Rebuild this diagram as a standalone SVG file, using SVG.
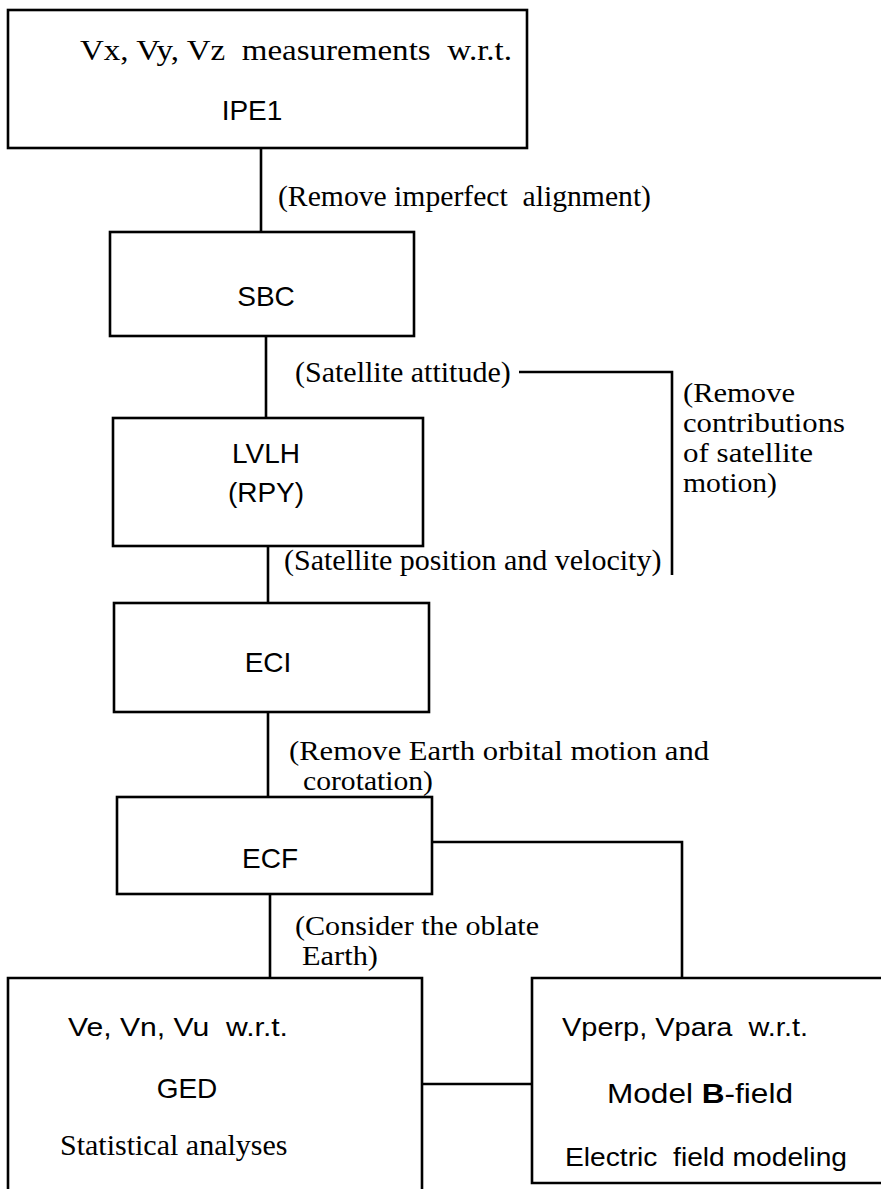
<svg xmlns="http://www.w3.org/2000/svg" width="881" height="1189" viewBox="0 0 881 1189">
<style>
  .box { fill: none; stroke: #000; stroke-width: 2.6; }
  .ln { fill: none; stroke: #000; stroke-width: 2.6; }
  .serif { font-family: "Liberation Serif", "Times New Roman", serif; font-size: 30px; fill: #000; white-space: pre; }
  .ml { font-family: "Liberation Serif", "Times New Roman", serif; font-size: 27px; fill: #000; }
  .sans { font-family: "Liberation Sans", Arial, sans-serif; font-size: 28px; fill: #000; white-space: pre; }
  .sm { font-family: "Liberation Sans", Arial, sans-serif; font-size: 26px; fill: #000; white-space: pre; }
</style>
<rect width="881" height="1189" fill="#fff"/>
<g id="connectors">
  <line class="ln" x1="261" y1="148" x2="261" y2="232"/>
  <line class="ln" x1="266" y1="336" x2="266" y2="418"/>
  <polyline class="ln" points="519,372 672,372 672,575"/>
  <line class="ln" x1="268" y1="546" x2="268" y2="603"/>
  <line class="ln" x1="268" y1="712" x2="268" y2="797"/>
  <polyline class="ln" points="432,842 682,842 682,978"/>
  <line class="ln" x1="270" y1="894" x2="270" y2="978"/>
  <line class="ln" x1="422" y1="1084" x2="532" y2="1084"/>
</g>
<g id="labels">
  <text class="serif" x="278" y="206" xml:space="preserve" textLength="373" lengthAdjust="spacingAndGlyphs">(Remove imperfect  alignment)</text>
  <text class="serif" x="295" y="382">(Satellite attitude)</text>
  <text class="ml" x="683" y="402" textLength="112" lengthAdjust="spacingAndGlyphs">(Remove</text>
  <text class="ml" x="683" y="432" textLength="162" lengthAdjust="spacingAndGlyphs">contributions</text>
  <text class="ml" x="683" y="462" textLength="130" lengthAdjust="spacingAndGlyphs">of satellite</text>
  <text class="ml" x="683" y="492" textLength="94" lengthAdjust="spacingAndGlyphs">motion)</text>
  <text class="serif" x="284" y="570">(Satellite position and velocity)</text>
  <text class="ml" x="289" y="760" textLength="420" lengthAdjust="spacingAndGlyphs">(Remove Earth orbital motion and</text>
  <text class="ml" x="303" y="790" textLength="130" lengthAdjust="spacingAndGlyphs">corotation)</text>
  <text class="ml" x="295" y="935" textLength="244" lengthAdjust="spacingAndGlyphs">(Consider the oblate</text>
  <text class="ml" x="302" y="965" textLength="76" lengthAdjust="spacingAndGlyphs">Earth)</text>
</g>
<g id="node-ipe1">
  <rect class="box" x="8" y="10" width="519" height="138"/>
  <text class="serif" x="80" y="60" font-size="31" xml:space="preserve" textLength="432" lengthAdjust="spacingAndGlyphs">Vx, Vy, Vz  measurements  w.r.t.</text>
  <text class="sans" x="252" y="120" text-anchor="middle" font-size="25">IPE1</text>
</g>
<g id="node-sbc">
  <rect class="box" x="110" y="232" width="304" height="104"/>
  <text class="sans" x="266" y="306" text-anchor="middle">SBC</text>
</g>
<g id="node-lvlh">
  <rect class="box" x="113" y="418" width="310" height="128"/>
  <text class="sans" x="266" y="463" text-anchor="middle">LVLH</text>
  <text class="sans" x="266" y="502" text-anchor="middle">(RPY)</text>
</g>
<g id="node-eci">
  <rect class="box" x="114" y="603" width="315" height="109"/>
  <text class="sans" x="268" y="672" text-anchor="middle">ECI</text>
</g>
<g id="node-ecf">
  <rect class="box" x="117" y="797" width="315" height="97"/>
  <text class="sans" x="270" y="868" text-anchor="middle">ECF</text>
</g>
<g id="node-ged">
  <polyline class="box" points="8,1189 8,978 422,978 422,1189"/>
  <text class="sm" x="68" y="1036" xml:space="preserve" textLength="220" lengthAdjust="spacingAndGlyphs">Ve, Vn, Vu  w.r.t.</text>
  <text class="sans" x="187" y="1098" text-anchor="middle">GED</text>
  <text class="serif" x="60" y="1155">Statistical analyses</text>
</g>
<g id="node-bfield">
  <polyline class="box" points="881,978 532,978 532,1183 881,1183"/>
  <text class="sm" x="562" y="1036" xml:space="preserve" textLength="246" lengthAdjust="spacingAndGlyphs">Vperp, Vpara  w.r.t.</text>
  <text class="sans" x="607" y="1103" font-size="30" textLength="186" lengthAdjust="spacingAndGlyphs">Model <tspan font-weight="bold">B</tspan>-field</text>
  <text class="sm" x="565" y="1166" xml:space="preserve" textLength="282" lengthAdjust="spacingAndGlyphs">Electric  field modeling</text>
</g>
</svg>
